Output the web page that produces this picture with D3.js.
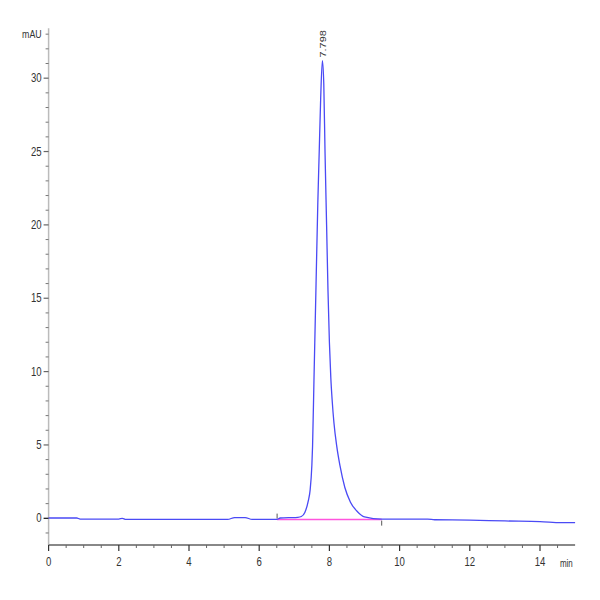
<!DOCTYPE html>
<html>
<head>
<meta charset="utf-8">
<script src="https://cdn.jsdelivr.net/npm/d3@7"></script>
<style>
  body { margin: 0; background: #fff; }
  text { font-family: "Liberation Sans Narrow", "Liberation Sans", Arial, sans-serif; fill: #333; }
</style>
</head>
<body>
<div id="chart"></div>
<script>
// chromatogram trace (min, mAU)
const times = [0, 0.8, 0.9, 2.0, 2.1, 2.2, 3.0, 4.4, 5.1, 5.3, 5.6, 5.8, 6.5, 6.6, 7.0, 7.1, 7.2, 7.3, 7.4, 7.45,
  7.5, 7.52, 7.56, 7.62, 7.67, 7.71, 7.75, 7.8, 7.84, 7.875, 7.92, 7.96, 8.0, 8.04, 8.08, 8.13, 8.21, 8.3, 8.44,
  8.6, 8.8, 9.0, 9.5, 10.8, 11.0, 12.0, 13.0, 14.0, 14.6, 15.0];
const signal = [0.02, 0.02, -0.05, -0.05, 0.0, -0.08, -0.08, -0.08, -0.08, 0.05, 0.05, -0.08, -0.08, 0.02, 0.05, 0.06, 0.12, 0.4, 1.2, 1.9,
  3.6, 4.9, 9.4, 16.0, 21.5, 25.0, 28.5, 31.2, 29.6, 25.0, 20.0, 15.5, 12.0, 9.6, 8.0, 6.5, 4.9, 3.6, 2.1,
  1.1, 0.45, 0.1, -0.05, -0.05, -0.1, -0.12, -0.18, -0.22, -0.3, -0.3];

// integration baseline and event marks
const baseStart = [6.51, -0.09];
const baseEnd = [9.49, -0.09];
const peakTime = 7.798;
const peakLabel = '7.798';

const yMajor = [0, 5, 10, 15, 20, 25, 30];
const xMajor = [0, 2, 4, 6, 8, 10, 12, 14];

const width = 600;
const height = 600;

const svg = d3.select('#chart').append('svg').attr('width', width).attr('height', height);

const x = d3.scaleLinear().domain([0, 15]).range([48.6, 575.1]);
const y = d3.scaleLinear().domain([-1.82, 33.4]).range([545, 28.3]);

// y axis line
svg.append('line')
  .attr('x1', x(0)).attr('x2', x(0))
  .attr('y1', y(33.4)).attr('y2', y(-1.82))
  .attr('stroke', '#bbb').attr('stroke-width', 1.5);

// y minor ticks every 1 mAU
const yMinor = d3.range(-1, 34, 1).filter((v) => v % 5 !== 0);
svg.selectAll('line.yminor')
  .data(yMinor)
  .enter()
  .append('line')
  .attr('class', 'yminor')
  .attr('x1', x(0) - 3).attr('x2', x(0))
  .attr('y1', (d) => y(d)).attr('y2', (d) => y(d))
  .attr('stroke', '#777').attr('stroke-width', 1);

svg.selectAll('line.ymajor')
  .data(yMajor)
  .enter()
  .append('line')
  .attr('class', 'ymajor')
  .attr('x1', x(0) - 5).attr('x2', x(0))
  .attr('y1', (d) => y(d)).attr('y2', (d) => y(d))
  .attr('stroke', (d) => (d === 0 ? '#111' : '#666')).attr('stroke-width', 1.2);

// narrow labels, squeezed horizontally like the original
svg.selectAll('text.ylab')
  .data(yMajor)
  .enter()
  .append('text')
  .attr('class', 'ylab')
  .attr('transform', (d) => `translate(${x(0) - 7},${y(d) + 4}) scale(0.8,1)`)
  .attr('text-anchor', 'end')
  .attr('font-size', 12)
  .text((d) => d);

svg.append('text')
  .attr('transform', `translate(${x(0) - 7},${y(33) + 4}) scale(0.8,1)`)
  .attr('text-anchor', 'end')
  .attr('font-size', 11)
  .text('mAU');

// x axis line
svg.append('line')
  .attr('x1', x(0)).attr('x2', x(15))
  .attr('y1', y(-1.82)).attr('y2', y(-1.82))
  .attr('stroke', '#888').attr('stroke-width', 2);

const xMinor = d3.range(0.5, 15, 0.5).filter((v) => v % 2 !== 0);
svg.selectAll('line.xminor')
  .data(xMinor)
  .enter()
  .append('line')
  .attr('class', 'xminor')
  .attr('x1', (d) => x(d)).attr('x2', (d) => x(d))
  .attr('y1', y(-1.82)).attr('y2', y(-1.82) + 3)
  .attr('stroke', '#666').attr('stroke-width', 1);

svg.selectAll('line.xmajor')
  .data(xMajor)
  .enter()
  .append('line')
  .attr('class', 'xmajor')
  .attr('x1', (d) => x(d)).attr('x2', (d) => x(d))
  .attr('y1', y(-1.82)).attr('y2', y(-1.82) + 6)
  .attr('stroke', '#333').attr('stroke-width', 1.2);

svg.selectAll('text.xlab')
  .data(xMajor)
  .enter()
  .append('text')
  .attr('class', 'xlab')
  .attr('transform', (d) => `translate(${x(d)},${y(-1.82) + 21}) scale(0.8,1)`)
  .attr('text-anchor', 'middle')
  .attr('font-size', 12)
  .text((d) => d);

svg.append('text')
  .attr('transform', `translate(${x(14.75)},${y(-1.82) + 22}) scale(0.8,1)`)
  .attr('text-anchor', 'middle')
  .attr('font-size', 10)
  .text('min');

// integration baseline (pink)
svg.append('line')
  .attr('x1', x(baseStart[0])).attr('x2', x(baseEnd[0]))
  .attr('y1', y(baseStart[1])).attr('y2', y(baseEnd[1]))
  .attr('stroke', '#ff55dd').attr('stroke-width', 1.5);

// event ticks at start / end of peak
svg.append('line')
  .attr('x1', x(baseStart[0])).attr('x2', x(baseStart[0]))
  .attr('y1', y(baseStart[1]) - 6).attr('y2', y(baseStart[1]) - 1)
  .attr('stroke', '#555').attr('stroke-width', 1);
svg.append('line')
  .attr('x1', x(baseEnd[0])).attr('x2', x(baseEnd[0]))
  .attr('y1', y(baseEnd[1]) + 1).attr('y2', y(baseEnd[1]) + 6)
  .attr('stroke', '#555').attr('stroke-width', 1);

// signal trace
const line = d3.line()
  .x((d) => x(d[0]))
  .y((d) => y(d[1]))
  .curve(d3.curveMonotoneX);

svg.append('path')
  .datum(d3.zip(times, signal))
  .attr('d', line)
  .attr('fill', 'none')
  .attr('stroke', '#4a4af5')
  .attr('stroke-width', 1.3);

// retention time label, rotated
svg.append('text')
  .attr('transform', `translate(${x(peakTime) + 4},${y(31.2) - 3}) rotate(-90) scale(1,0.85)`)
  .attr('text-anchor', 'start')
  .attr('font-size', 11)
  .attr('fill', '#333')
  .text(peakLabel);
</script>
</body>
</html>
